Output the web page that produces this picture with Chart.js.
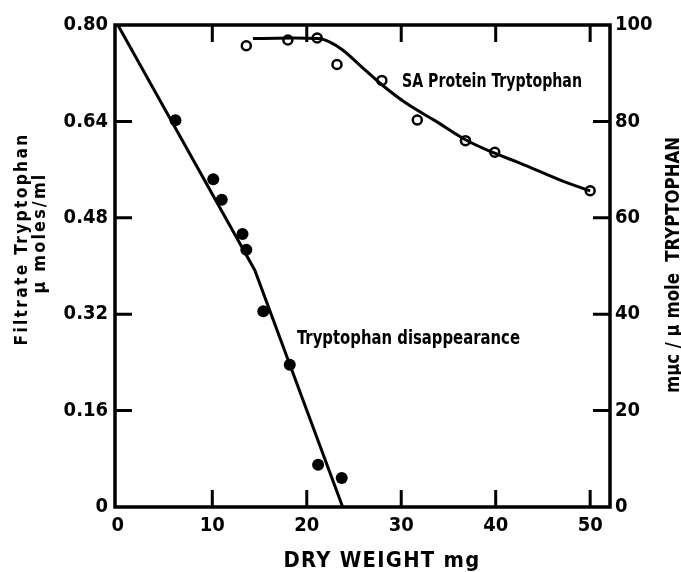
<!DOCTYPE html>
<html>
<head>
<meta charset="utf-8">
<script src="https://cdn.jsdelivr.net/npm/chart.js@4.4.1/dist/chart.umd.min.js"></script>
<style>
html,body{margin:0;padding:0;background:#fff;}
#wrap{width:681px;height:572px;position:relative;}
</style>
</head>
<body>
<div id="wrap"><canvas id="c"></canvas></div>
<script>
// ---- data ----
const xTicks = [0, 10, 20, 30, 40, 50];
const leftTicks = [0, 0.16, 0.32, 0.48, 0.64, 0.80];
const rightTicks = [0, 20, 40, 60, 80, 100];

const disappearanceX = [6.1, 10.1, 11.0, 13.2, 13.6, 15.4, 18.2, 21.2, 23.7];
const disappearanceY = [0.642, 0.544, 0.51, 0.453, 0.427, 0.325, 0.236, 0.070, 0.048];

const fitLineX = [0, 14.5, 23.8];
const fitLineY = [0.80, 0.393, 0];

const saX = [13.6, 18.0, 21.1, 23.2, 27.95, 31.7, 36.8, 39.9, 50.0];
const saY = [95.7, 96.9, 97.3, 91.8, 88.5, 80.3, 76.0, 73.6, 65.6];

const saCurveX = [14.3, 21.2, 22.4, 23.8, 25.6, 27.95, 30.5, 33.7, 36.8, 39.9, 42.5, 47.1, 50];
const saCurveY = [97.2, 97.2, 96.5, 94.8, 91.7, 87.6, 83.8, 80.0, 76.2, 73.4, 71.4, 67.6, 65.6];

const labelSA = "SA Protein Tryptophan";
const labelDis = "Tryptophan disappearance";
const xTitle = "DRY WEIGHT mg";
const leftTitle1 = "Filtrate Tryptophan";
const leftTitle2 = "\u00b5 moles/ml";
const rightTitle = "m\u00b5c / \u00b5 mole  TRYPTOPHAN";

const FONT = "'DejaVu Sans Condensed', 'DejaVu Sans', sans-serif";

function pts(xs, ys){ return xs.map((x,i)=>({x:x, y:ys[i]})); }

function drawSpaced(ctx, text, x, y, spacing, maxW){
  ctx.letterSpacing = spacing + 'px';
  ctx.fillText(text, x, y, maxW);
  ctx.letterSpacing = '0px';
}

const framePlugin = {
  id: 'frame',
  afterDatasetsDraw(chart){
    const ctx = chart.ctx, a = chart.chartArea;
    const sx = chart.scales.x, yl = chart.scales.y, yr = chart.scales.y2;
    ctx.save();
    ctx.strokeStyle = '#000';
    ctx.lineWidth = 3.5;
    ctx.lineCap = 'square';
    ctx.strokeRect(a.left, a.top, a.right - a.left, a.bottom - a.top);
    const L = 17;
    ctx.lineCap = 'butt';
    ctx.lineWidth = 3;
    ctx.beginPath();
    sx.ticks.forEach(t=>{
      const p = sx.getPixelForValue(t.value);
      if (t.value !== 0) {
        ctx.moveTo(p, a.bottom); ctx.lineTo(p, a.bottom - L);
        ctx.moveTo(p, a.top); ctx.lineTo(p, a.top + L);
      }
    });
    yl.ticks.forEach(t=>{
      const p = yl.getPixelForValue(t.value);
      if (t.value !== 0 && t.value < 0.79) { ctx.moveTo(a.left, p); ctx.lineTo(a.left + L, p); }
    });
    yr.ticks.forEach(t=>{
      const p = yr.getPixelForValue(t.value);
      if (t.value !== 0 && t.value < 99) { ctx.moveTo(a.right, p); ctx.lineTo(a.right - L, p); }
    });
    ctx.stroke();

    ctx.fillStyle = '#000';
    ctx.textBaseline = 'alphabetic';
    ctx.textAlign = 'left';
    ctx.font = 'bold 20px ' + FONT;
    ctx.fillText(labelSA, 402, 87, 180);
    ctx.fillText(labelDis, 297, 344, 223);
    ctx.textAlign = 'center';
    ctx.font = 'bold 22px ' + FONT;
    drawSpaced(ctx, xTitle, 382, 567, 1.3, 197);

    ctx.font = 'bold 18px ' + FONT;
    ctx.save();
    ctx.translate(27, 239); ctx.rotate(-Math.PI/2);
    drawSpaced(ctx, leftTitle1, 0, 0, 2.4, 213);
    ctx.restore();
    ctx.save();
    ctx.translate(45, 233); ctx.rotate(-Math.PI/2);
    drawSpaced(ctx, leftTitle2, 0, 0, 2.2, 121);
    ctx.restore();
    ctx.font = 'bold 20px ' + FONT;
    ctx.save();
    ctx.translate(679, 265); ctx.rotate(-Math.PI/2);
    ctx.fillText(rightTitle, 0, 0, 256);
    ctx.restore();
    ctx.restore();
  }
};

const tickFont = { size: 20, family: FONT, weight: 'bold' };

new Chart(document.getElementById('c'), {
  type: 'scatter',
  data: {
    datasets: [
      { data: pts(fitLineX, fitLineY), yAxisID: 'y', showLine: true, borderColor: '#000', borderWidth: 3, pointRadius: 0, fill: false, tension: 0 },
      { data: pts(disappearanceX, disappearanceY), yAxisID: 'y', showLine: false, pointRadius: 6, backgroundColor: '#000', borderColor: '#000', borderWidth: 0 },
      { data: pts(saCurveX, saCurveY), yAxisID: 'y2', showLine: true, borderColor: '#000', borderWidth: 3, pointRadius: 0, tension: 0.4, fill: false },
      { data: pts(saX, saY), yAxisID: 'y2', showLine: false, pointRadius: 4.5, backgroundColor: '#fff', borderColor: '#000', borderWidth: 2.5 }
    ]
  },
  options: {
    responsive: true,
    maintainAspectRatio: false,
    animation: false,
    layout: { padding: { top: 25, left: 0, right: 0, bottom: 0 } },
    plugins: { legend: { display: false }, tooltip: { enabled: false } },
    scales: {
      x: {
        type: 'linear', min: -0.3, max: 52.1,
        afterBuildTicks(s){ s.ticks = xTicks.map(v=>({value:v})); },
        afterFit(s){ s.height = 65; },
        grid: { display: false, drawTicks: false },
        border: { display: false },
        ticks: { color: '#000', font: tickFont, padding: 7, maxRotation: 0, autoSkip: false, callback: v => String(v) }
      },
      y: {
        type: 'linear', position: 'left', min: 0, max: 0.8,
        afterBuildTicks(s){ s.ticks = leftTicks.map(v=>({value:v})); },
        afterFit(s){ s.width = 115; },
        grid: { display: false, drawTicks: false },
        border: { display: false },
        ticks: { color: '#000', font: tickFont, padding: 7, autoSkip: false, callback: v => v === 0 ? '0' : v.toFixed(2) }
      },
      y2: {
        type: 'linear', position: 'right', min: 0, max: 100,
        afterBuildTicks(s){ s.ticks = rightTicks.map(v=>({value:v})); },
        afterFit(s){ s.width = 71; },
        grid: { display: false, drawTicks: false },
        border: { display: false },
        ticks: { color: '#000', font: tickFont, padding: 5, autoSkip: false, callback: v => String(v) }
      }
    }
  },
  plugins: [framePlugin]
});
</script>
</body>
</html>
